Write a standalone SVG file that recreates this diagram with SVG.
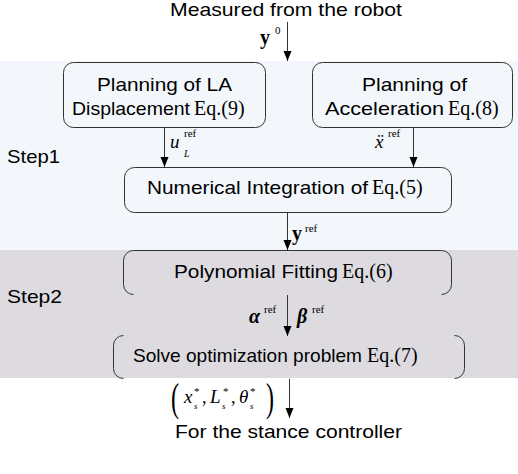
<svg xmlns="http://www.w3.org/2000/svg" width="518" height="474" viewBox="0 0 518 474">
<defs>
<marker id="arr" markerUnits="userSpaceOnUse" markerWidth="10" markerHeight="10" refX="10" refY="4" orient="auto">
<path d="M0,0 L10,4 L0,8 z" fill="#000"/>
</marker>
<style>
.box{fill:none;stroke:#333;stroke-width:1}
.sans{font-family:"Liberation Sans",Arial,sans-serif;font-size:18.5px;fill:#000}
.ser{font-family:"Liberation Serif","Times New Roman",serif;font-size:20px;fill:#000}
.mi{font-family:"Liberation Serif","Times New Roman",serif;font-style:italic;font-size:19px;fill:#000}
.mb{font-family:"Liberation Serif","Times New Roman",serif;font-weight:bold;font-size:20px;fill:#000}
.sup{font-family:"Liberation Serif","Times New Roman",serif;font-size:11px;fill:#000}
.con{stroke:#333;stroke-width:1;fill:none;marker-end:url(#arr)}
</style>
</defs>
<rect x="0" y="61" width="518" height="189" fill="#f3f7fb"/>
<rect x="0" y="250" width="518" height="128" fill="#dddbe0"/>

<text class="sans" x="170" y="16" textLength="232" lengthAdjust="spacingAndGlyphs">Measured from the robot</text>
<text class="sans" x="7" y="163" textLength="53" lengthAdjust="spacingAndGlyphs">Step1</text>
<text class="sans" x="7" y="303" textLength="55" lengthAdjust="spacingAndGlyphs">Step2</text>

<g id="n1">
<rect class="box" x="63.5" y="62.5" width="202" height="65" rx="10"/>
<text class="sans" x="97" y="91" textLength="135" lengthAdjust="spacingAndGlyphs">Planning of LA</text>
<text class="sans" x="72" y="115" textLength="118" lengthAdjust="spacingAndGlyphs">Displacement</text>
<text class="ser" x="194" y="115">Eq.(9)</text>
</g>
<g id="n2">
<rect class="box" x="312.5" y="62.5" width="200" height="65" rx="10"/>
<text class="sans" x="362" y="91" textLength="105" lengthAdjust="spacingAndGlyphs">Planning of</text>
<text class="sans" x="325" y="115" textLength="119" lengthAdjust="spacingAndGlyphs">Acceleration</text>
<text class="ser" x="448" y="115">Eq.(8)</text>
</g>
<g id="n3">
<rect class="box" x="124.5" y="167.5" width="327" height="45" rx="10"/>
<text class="sans" x="147" y="194" textLength="221" lengthAdjust="spacingAndGlyphs">Numerical Integration of</text>
<text class="ser" x="372" y="194">Eq.(5)</text>
</g>
<g id="n4">
<path class="box" d="M133.5,250.5 H441.5 A10,10 0 0 1 451.5,260.5 V284.5 A10,10 0 0 1 441.5,294.5 M133.5,294.5 A10,10 0 0 1 123.5,284.5 V260.5 A10,10 0 0 1 133.5,250.5"/>
<text class="sans" x="174" y="278" textLength="164" lengthAdjust="spacingAndGlyphs">Polynomial Fitting</text>
<text class="ser" x="342" y="278">Eq.(6)</text>
</g>
<g id="n5">
<path class="box" d="M454.5,335.5 A10,10 0 0 1 464.5,345.5 V368.5 A10,10 0 0 1 454.5,378.5 M123.5,378.5 A10,10 0 0 1 113.5,368.5 V345.5 A10,10 0 0 1 123.5,335.5"/>
<text class="sans" x="133" y="362" textLength="229" lengthAdjust="spacingAndGlyphs">Solve optimization problem</text>
<text class="ser" x="367" y="362">Eq.(7)</text>
</g>
<text class="sans" x="175" y="438" textLength="227" lengthAdjust="spacingAndGlyphs">For the stance controller</text>

<g id="connectors">
<line class="con" x1="287.5" y1="22" x2="287.5" y2="61"/>
<line class="con" x1="164.5" y1="128" x2="164.5" y2="167"/>
<line class="con" x1="413.5" y1="128" x2="413.5" y2="167"/>
<line class="con" x1="287.5" y1="213" x2="287.5" y2="250"/>
<line class="con" x1="287.5" y1="295" x2="287.5" y2="336"/>
<line class="con" x1="289.5" y1="379" x2="289.5" y2="418"/>
</g>

<g id="labels">
<text class="mb" x="260" y="44">y</text><text class="sup" x="275" y="34">0</text>
<text class="mi" x="170" y="148">u</text><text class="sup" x="184" y="137">ref</text><text class="mi" style="font-size:10px" x="184" y="157">L</text>
<text class="mi" x="375" y="148">ẍ</text><text class="sup" x="388" y="137">ref</text>
<text class="mb" x="292" y="240">y</text><text class="sup" x="305" y="232">ref</text>
<text class="mb" style="font-style:italic" x="249" y="323">α</text><text class="sup" x="264" y="313">ref</text>
<text class="mb" style="font-style:italic" x="297" y="323">β</text><text class="sup" x="312" y="313">ref</text>
<text class="ser" x="171" y="411" style="font-size:40px" transform="translate(171 411) scale(0.6 1) translate(-171 -411)">(</text>
<text class="mi" x="184" y="403">x</text><text class="sup" x="194" y="395">*</text><text class="mi" style="font-size:9px" x="194" y="409">s</text>
<text class="ser" x="202" y="403" style="font-size:18px">,</text>
<text class="mi" x="210" y="403">L</text><text class="sup" x="223" y="395">*</text><text class="mi" style="font-size:9px" x="222" y="409">s</text>
<text class="ser" x="231" y="403" style="font-size:18px">,</text>
<text class="mi" x="239" y="403">θ</text><text class="sup" x="250" y="395">*</text><text class="mi" style="font-size:9px" x="250" y="409">s</text>
<text class="ser" x="266" y="411" style="font-size:40px" transform="translate(266 411) scale(0.6 1) translate(-266 -411)">)</text>
</g>
</svg>
